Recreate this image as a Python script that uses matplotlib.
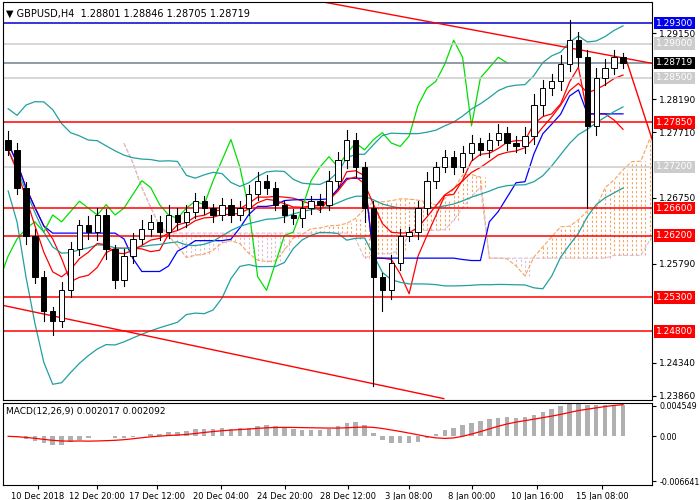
import matplotlib
matplotlib.use("Agg")
import matplotlib.pyplot as plt
import numpy as np
import pandas as pd

closes = [1.2745,1.2690,1.2620,1.2560,1.2510,1.2495,1.2540,1.2600,1.2635,1.2625,
          1.2650,1.2600,1.2555,1.2590,1.2615,1.2630,1.2640,1.2625,1.2650,1.2640,
          1.2655,1.2670,1.2660,1.2650,1.2665,1.2650,1.2660,1.2680,1.2700,1.2690,
          1.2665,1.2650,1.2645,1.2660,1.2670,1.2665,1.2700,1.2730,1.2760,1.2720,
          1.2660,1.2560,1.2540,1.2580,1.2620,1.2625,1.2660,1.2700,1.2720,1.2735,
          1.2720,1.2740,1.2755,1.2745,1.2760,1.2770,1.2755,1.2750,1.2765,1.2810,
          1.2835,1.2845,1.2870,1.2905,1.2880,1.2780,1.2850,1.2865,1.2880,1.28719]
opens = [1.2760] + closes[:-1]
wick_up = [12,10,8,10,8,6,12,10,8,14,10,8,6,10,8,12,10,8,14,10,
           10,12,8,6,10,8,10,14,12,8,8,6,8,10,8,10,14,12,14,10,
           8,10,6,12,10,8,10,12,8,10,8,10,12,8,10,12,8,10,14,16,
           12,10,14,30,12,10,14,12,10,6]
wick_dn = [8,10,12,10,14,20,8,10,8,10,12,14,12,8,10,8,10,12,8,10,
           8,10,8,10,8,10,8,10,8,10,8,10,8,12,8,10,8,10,12,14,
           20,160,30,12,10,8,10,8,10,8,10,8,10,8,10,8,10,8,10,12,
           14,10,12,10,12,120,14,10,10,8]
highs = [max(o, c) + w * 1e-4 for o, c, w in zip(opens, closes, wick_up)]
lows = [min(o, c) - w * 1e-4 for o, c, w in zip(opens, closes, wick_dn)]

xtick_pos = [3.3, 10, 16.7, 23.9, 31.1, 38.1, 45, 52, 59.4, 66.7]
xtick_lab = ["10 Dec 2018", "12 Dec 20:00", "17 Dec 12:00", "20 Dec 04:00", "24 Dec 20:00",
             "28 Dec 12:00", "3 Jan 08:00", "8 Jan 00:00", "10 Jan 16:00", "15 Jan 08:00"]
red_levels = [1.2785, 1.2660, 1.2620, 1.2530, 1.2480]
gray_levels = [1.2900, 1.2850, 1.2720]
blue_level = 1.2930
current = 1.28719
axis_ticks = [1.29150, 1.28190, 1.27710, 1.26750, 1.25790, 1.24340, 1.23860]

c = pd.Series(closes); h = pd.Series(highs); l = pd.Series(lows)
n = len(c)
x = np.arange(n)

fig = plt.figure(figsize=(7, 5), dpi=100)
ax = fig.add_axes([0.004, 0.2, 0.928, 0.795])
mx = fig.add_axes([0.004, 0.03, 0.928, 0.165], sharex=ax)

tenkan = (h.rolling(5, min_periods=1).max() + l.rolling(5, min_periods=1).min()) / 2
kijun = (h.rolling(13, min_periods=1).max() + l.rolling(13, min_periods=1).min()) / 2
shift = 13
spanA = ((tenkan + kijun) / 2).values
spanB = ((h.rolling(26, min_periods=1).max() + l.rolling(26, min_periods=1).min()) / 2).values
xs = x + shift
for xi, a, b in zip(xs, spanA, spanB):
    for dx in (0, 0.5):
        ax.plot([xi + dx, xi + dx], [min(a, b), max(a, b)], color="#f4a460" if a > b else "#d8bfd8",
                lw=0.8, ls=(0, (2, 2)))
ax.plot(xs, spanA, color="#f4a460", lw=0.8, ls="--")
ax.plot(xs, spanB, color="#d8bfd8", lw=0.8, ls="--")
ax.plot(x, tenkan, color="red", lw=0.9)
ax.plot(x, kijun, color="blue", lw=0.9)
ax.plot(x - shift, c, color="#00e000", lw=0.9)

ma = c.rolling(20, min_periods=1).mean()
sd = c.rolling(20, min_periods=2).std().fillna(0.003)
ax.plot(x, ma + 2 * sd, color="#20a0a0", lw=0.9)
ax.plot(x, ma - 2 * sd, color="#20a0a0", lw=0.9)
ax.plot(x, ma, color="#20a0a0", lw=0.9)
ax.plot(x, c.ewm(span=8).mean(), color="red", lw=0.9)

for lv in red_levels:
    ax.axhline(lv, color="red", lw=1.1)
for lv in gray_levels:
    ax.axhline(lv, color="#cccccc", lw=1.1)
ax.axhline(blue_level, color="#0000cc", lw=1.1)
ax.axhline(current, color="#708090", lw=1.1)

def px(xp): return (xp - 5) / 9
ax.plot([px(0), px(445)], [1.2518, 1.2382], color="red", lw=1)
ax.plot([px(315), px(660)], [1.2963, 1.2870], color="red", lw=1)
ax.plot([px(630), px(660)], [1.2873, 1.2740], color="red", lw=1)

for i in range(n):
    o, cl = opens[i], closes[i]
    ax.plot([i, i], [lows[i], highs[i]], color="black", lw=0.8, zorder=5)
    col = "white" if cl >= o else "black"
    ax.add_patch(plt.Rectangle((i - 0.3, min(o, cl)), 0.6, max(abs(cl - o), 0.00005),
                               facecolor=col, edgecolor="black", lw=0.7, zorder=6))

ax.set_xlim(-0.6, 72.3)
ax.set_ylim(1.2380, 1.2960)
ax.yaxis.tick_right()
ax.set_yticks(axis_ticks)
ax.set_yticklabels([f"{t:.5f}" for t in axis_ticks], fontsize=6.5)
ax.tick_params(axis="x", labelbottom=False, length=0)
ax.tick_params(axis="y", length=3, pad=2)

def label(lv, bg, fg="white"):
    ax.text(1.006, lv, f"{lv:.5f}", transform=ax.get_yaxis_transform(), fontsize=6.5, color=fg,
            va="center", ha="left", bbox=dict(boxstyle="square,pad=0.2", fc=bg, ec="none"))
for lv in red_levels: label(lv, "red")
for lv in gray_levels: label(lv, "#cccccc")
label(blue_level, "#0000ee")
label(current, "black")

ax.text(0.005, 0.985, "▼ GBPUSD,H4  1.28801 1.28846 1.28705 1.28719", transform=ax.transAxes,
        fontsize=7, va="top", ha="left")

e12 = c.ewm(span=12).mean(); e26 = c.ewm(span=26).mean()
macd = e12 - e26
sig = macd.rolling(9, min_periods=1).mean()
mx.bar(x, macd, width=0.5, color="#b0b0b0")
mx.plot(x, sig, color="red", lw=0.9)
mx.set_ylim(-0.0072, 0.0050)
mx.yaxis.tick_right()
mx.set_yticks([0.004549, 0.0, -0.006641])
mx.set_yticklabels(["0.004549", "0.00", "-0.006641"], fontsize=5.8)
mx.set_xticks(xtick_pos)
mx.set_xticklabels(xtick_lab, fontsize=6)
mx.tick_params(axis="both", length=3, pad=2)
mx.text(0.005, 0.95, "MACD(12,26,9) 0.002017 0.002092", transform=mx.transAxes, fontsize=6.5, va="top")

fig.savefig("out.png", dpi=100)
